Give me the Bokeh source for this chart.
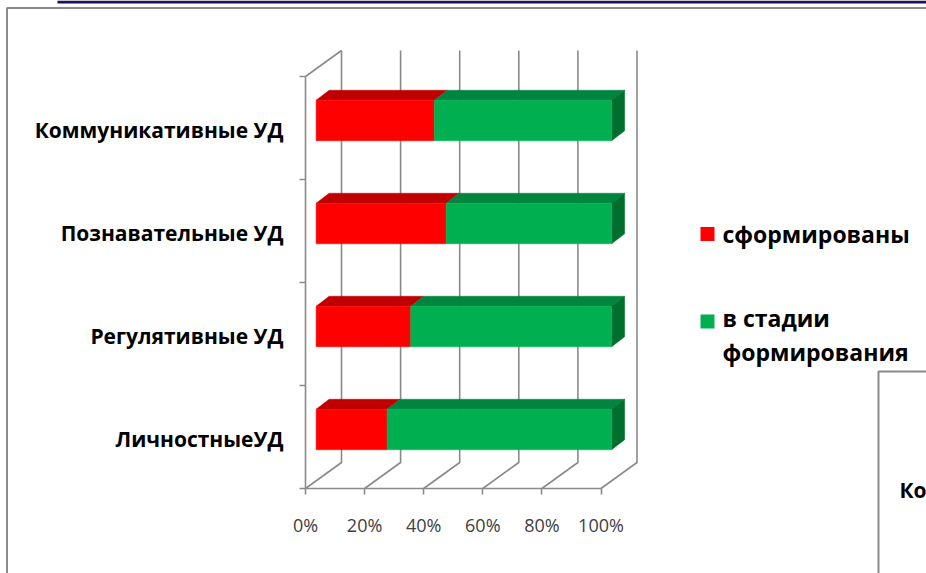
from bokeh.plotting import figure
from bokeh.models import Range1d, LinearAxis, FixedTicker
from bokeh.core.properties import value
from bokeh.embed import file_html
from bokeh.resources import INLINE

# ---------------- data ----------------
categories = ["ЛичностныеУД", "Регулятивные УД", "Познавательные УД", "Коммуникативные УД"]
formed = [24, 32, 44, 40]          # сформированы, %
forming = [76, 68, 56, 60]         # в стадии формирования, %
series_names = ["сформированы", "в стадии\nформирования"]
x_ticks = [0, 20, 40, 60, 80, 100]
x_tick_labels = ["0%", "20%", "40%", "60%", "80%", "100%"]

# ---------------- styles ----------------
front_colors = ["#FF0000", "#00B050"]
top_colors = ["#C00000", "#00853E"]
side_color = "#006F2E"
grid_color = "#8A8A8A"
FONT = "Open Sans"

W, H = 926, 573
PXX, X0 = 2.955, 305.0   # px per percent, page x of 0%
PXY, Y0 = 103.0, 488.0   # px per category, page y of floor front edge


def dx(page_x):
    return (page_x - X0) / PXX


def dy(page_y):
    return (Y0 - page_y) / PXY


# 3D depth (in data units)
WDX, WDY = 36 / PXX, 26 / PXY       # wall depth
BFX, BFY = 3.6, 7.5 / PXY           # bar front face offset
BDX, BDY = 13 / PXX, 10 / PXY       # bar depth
BH = 40.5 / PXY                     # bar height

n = len(categories)

p = figure(width=W, height=H,
           x_range=Range1d(dx(0), dx(W)), y_range=Range1d(dy(H), dy(0)),
           x_axis_type=None, y_axis_type=None,
           toolbar_location=None, output_backend="svg", min_border=0)
p.outline_line_color = None
p.background_fill_color = "white"
p.border_fill_color = "white"

# ---------------- walls / gridlines ----------------
gx, gy = [], []
for t in x_ticks:
    gx.append([t, t + WDX, t + WDX])
    gy.append([0, WDY, n + WDY])
gx.append([0, WDX])
gy.append([n, n + WDY])
p.multi_line(gx, gy, line_color=grid_color, line_width=1.6)

# ---------------- bars ----------------
fx, fy, fc = [], [], []
tx, ty, tc = [], [], []
sx, sy = [], []
for i in range(n):
    yb = i + 0.5 - BH / 2 + BFY
    yt = yb + BH
    segs = [(0, formed[i], 0), (formed[i], formed[i] + forming[i], 1)]
    for a, b, k in segs:
        x0, x1 = a + BFX, b + BFX
        fx.append([x0, x1, x1, x0]); fy.append([yb, yb, yt, yt]); fc.append(front_colors[k])
        tx.append([x0, x1, x1 + BDX, x0 + BDX]); ty.append([yt, yt, yt + BDY, yt + BDY]); tc.append(top_colors[k])
    x1 = formed[i] + forming[i] + BFX
    sx.append([x1, x1 + BDX, x1 + BDX, x1]); sy.append([yb, yb + BDY, yt + BDY, yt])

p.patches(tx, ty, fill_color=tc, line_color=tc, line_width=0.5)
p.patches(sx, sy, fill_color=side_color, line_color=side_color, line_width=0.5)
p.patches(fx, fy, fill_color=fc, line_color=fc, line_width=0.5)

# ---------------- axes ----------------
label_pos = [round(i + 0.48, 2) for i in range(n)]
yaxis = LinearAxis(fixed_location=0, bounds=(0, n),
                   ticker=FixedTicker(ticks=label_pos, minor_ticks=list(range(n + 1))))
yaxis.major_label_overrides = {pos: name for pos, name in zip(label_pos, categories)}
yaxis.axis_line_color = grid_color
yaxis.axis_line_width = 1.6
yaxis.major_tick_line_color = None
yaxis.major_tick_out = 0
yaxis.major_tick_in = 0
yaxis.minor_tick_out = 6
yaxis.minor_tick_in = 0
yaxis.minor_tick_line_color = grid_color
yaxis.minor_tick_line_width = 1.6
yaxis.major_label_standoff = 16
yaxis.major_label_text_font = FONT
yaxis.major_label_text_font_style = "bold"
yaxis.major_label_text_font_size = "21px"
yaxis.major_label_text_color = "black"
p.add_layout(yaxis, "left")

xaxis = LinearAxis(fixed_location=0, bounds=(0, 100),
                   ticker=FixedTicker(ticks=x_ticks, minor_ticks=[]))
xaxis.major_label_overrides = {t: lab for t, lab in zip(x_ticks, x_tick_labels)}
xaxis.axis_line_color = grid_color
xaxis.axis_line_width = 1.6
xaxis.major_tick_line_color = grid_color
xaxis.major_tick_line_width = 1.6
xaxis.major_tick_out = 6
xaxis.major_tick_in = 0
xaxis.minor_tick_line_color = None
xaxis.major_label_standoff = 18
xaxis.major_label_text_font = FONT
xaxis.major_label_text_font_size = "18px"
xaxis.major_label_text_color = "#404040"
p.add_layout(xaxis, "below")

# ---------------- legend ----------------
p.scatter(x=[dx(707), dx(707)], y=[dy(233.5), dy(321)], marker="square", size=14,
          fill_color=front_colors, line_color=None)
p.text(x=[dx(722), dx(722)], y=[dy(233), dy(334.75)], text=series_names,
       text_font=value(FONT), text_font_style="bold", text_font_size="23px",
       text_baseline="middle", text_align="left", text_line_height=1.07, text_color="black")

# ---------------- slide decorations ----------------
p.line(x=[dx(57), dx(940)], y=[dy(1.5), dy(1.5)], line_color="#16165A", line_width=3)
p.line(x=[dx(6.5), dx(6.5), dx(940)], y=[dy(600), dy(7.5), dy(7.5)], line_color="#8A8A8A", line_width=2)
p.line(x=[dx(878), dx(878), dx(940)], y=[dy(600), dy(371), dy(371)], line_color="#8A8A8A", line_width=2)
p.text(x=[dx(899)], y=[dy(489)], text=["Ко"], text_font=value(FONT), text_font_style="bold",
       text_font_size="21px", text_baseline="middle", text_align="left", text_color="black")

open("out.html", "w").write(file_html(p, INLINE))
